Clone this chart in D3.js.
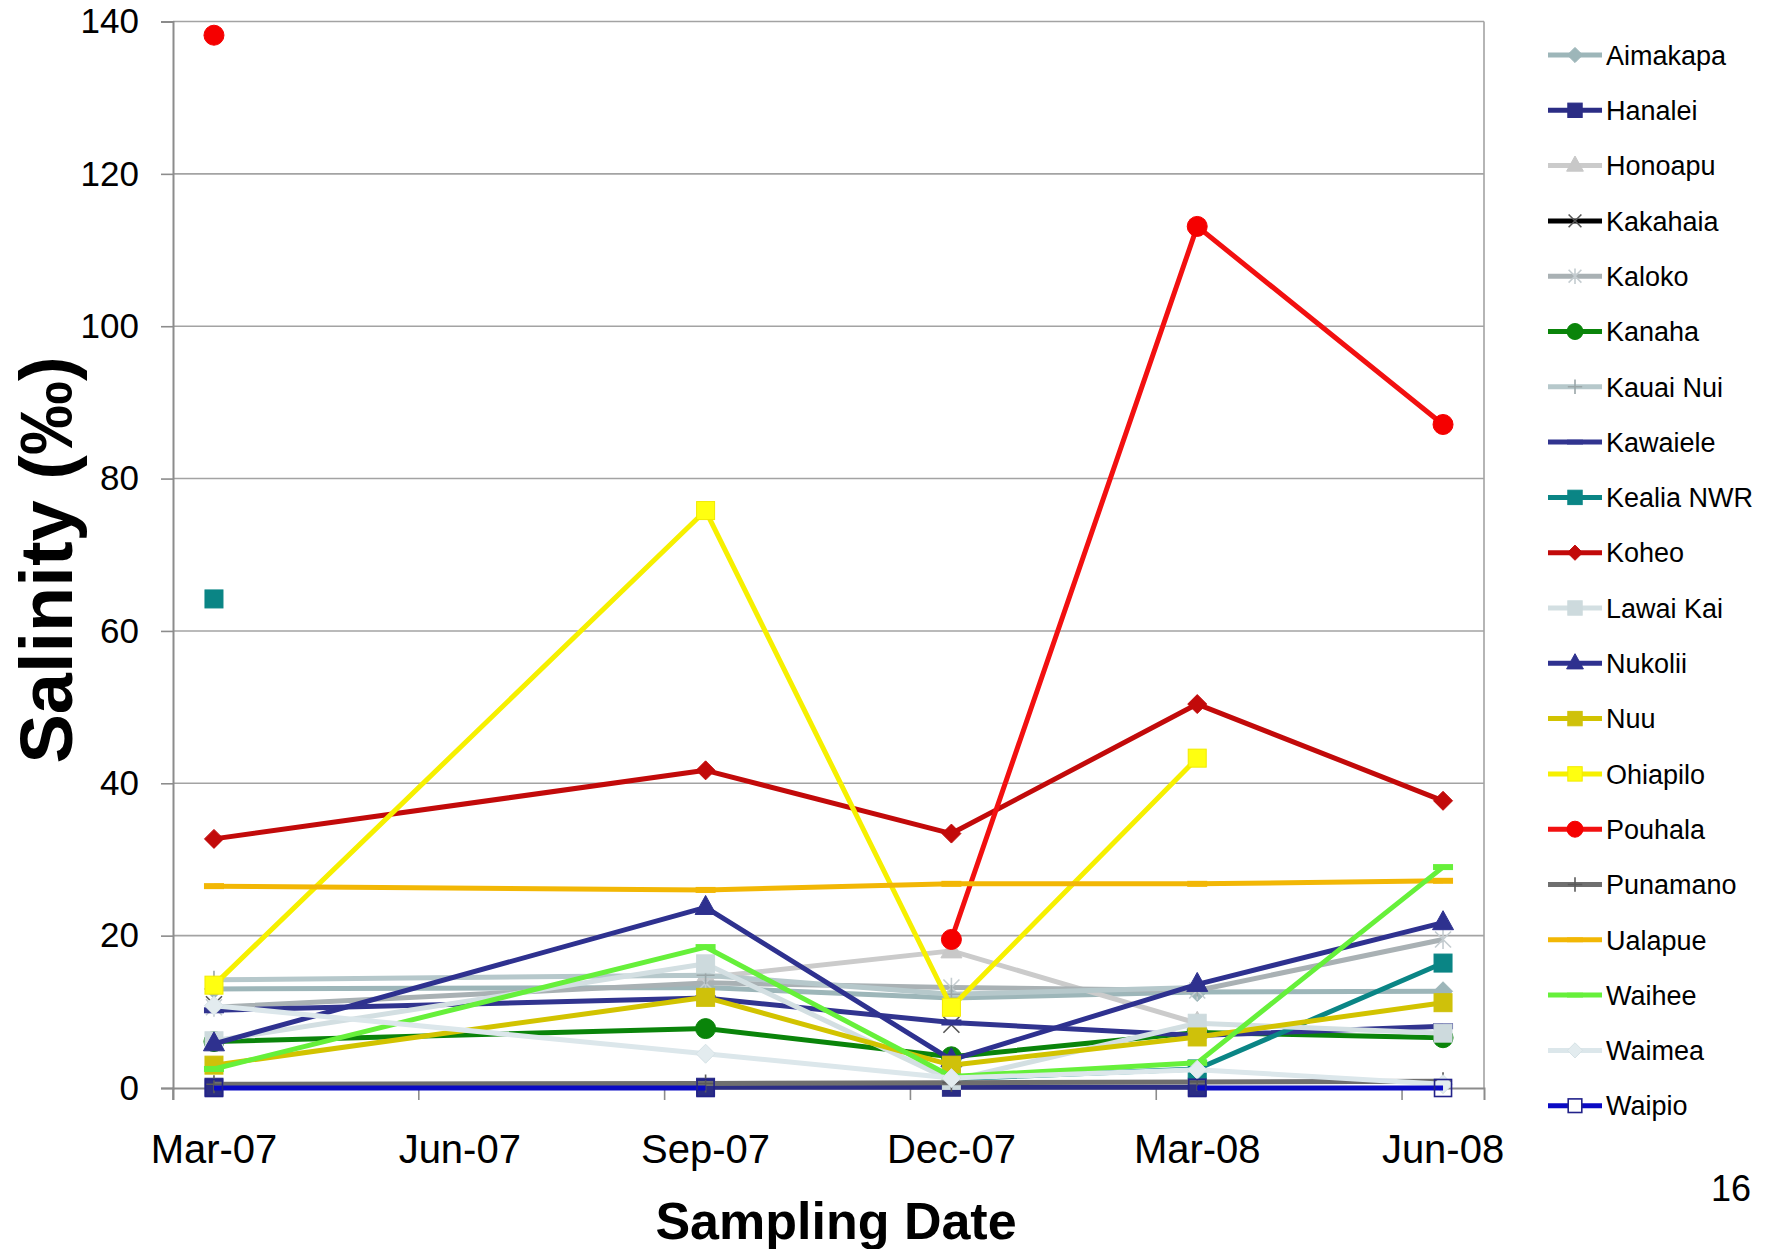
<!DOCTYPE html>
<html>
<head>
<meta charset="utf-8">
<script src="https://cdn.jsdelivr.net/npm/d3@7"></script>
<style>
  html, body { margin: 0; padding: 0; background: #fff; }
  svg { display: block; font-family: "Liberation Sans", Arial, sans-serif; }
</style>
</head>
<body>
<svg id="chart" width="1765" height="1249"></svg>
<script>
// Monthly slots of the date axis, sampling dates and labelled ticks
const months = ["Mar-07","Apr-07","May-07","Jun-07","Jul-07","Aug-07","Sep-07","Oct-07","Nov-07","Dec-07",
                "Jan-08","Feb-08","Mar-08","Apr-08","May-08","Jun-08"];
const sampleDates = ["Mar-07","Sep-07","Dec-07","Mar-08","Jun-08"];
const tickLabels = ["Mar-07","Jun-07","Sep-07","Dec-07","Mar-08","Jun-08"];
const yTicks = [0, 20, 40, 60, 80, 100, 120, 140];

// Salinity (‰) per site at each sampling date (null = not sampled)
const aimakapa = [13.0, 13.2, 11.8, 12.6, 12.7];
const hanalei  = [0.1, 0.1, 0.1, 0.1, null];
const honoapu  = [null, 14.5, 18.0, 8.5, null];
const kakahaia = [11.0, null, 8.3, null, null];
const kaloko   = [10.6, 13.8, 13.2, 12.8, 19.5];
const kanaha   = [6.1, 7.8, 4.1, 7.3, 6.6];
const kauaiNui = [14.2, 14.8, 12.3, 13.2, null];
const kawaiele = [10.2, 11.8, 8.6, 6.9, 8.1];
const kealia   = [64.2, null, 1.2, 2.5, 16.4];
const koheo    = [32.7, 41.7, 33.4, 50.4, 37.7];
const lawaiKai = [6.2, 16.3, 1.0, 8.5, 7.2];
const nukolii  = [5.8, 23.7, 3.7, 13.6, 21.7];
const nuu      = [3.0, 11.9, 3.0, 6.7, 11.2];
const ohiapilo = [13.5, 75.8, 10.6, 43.3, null];
const pouhala  = [138.2, null, 19.5, 113.1, 87.1];
const punamano = [0.5, 0.6, 0.7, 0.8, 0.9];
const ualapue  = [26.5, 26.0, 26.8, 26.8, 27.2];
const waihee   = [2.5, 18.5, 1.5, 3.3, 29.0];
const waimea   = [10.8, 4.5, 1.3, 2.4, 0.5];
const waipio   = [0, 0, null, 0, 0];

const siteNames = ["Aimakapa","Hanalei","Honoapu","Kakahaia","Kaloko","Kanaha","Kauai Nui","Kawaiele",
                   "Kealia NWR","Koheo","Lawai Kai","Nukolii","Nuu","Ohiapilo","Pouhala","Punamano",
                   "Ualapue","Waihee","Waimea","Waipio"];
const siteValues = [aimakapa, hanalei, honoapu, kakahaia, kaloko, kanaha, kauaiNui, kawaiele,
                    kealia, koheo, lawaiKai, nukolii, nuu, ohiapilo, pouhala, punamano,
                    ualapue, waihee, waimea, waipio];

// Line colour, marker shape and marker colours for each site
const siteStyle = {
  "Aimakapa":   {line: "#9db6b9", marker: "diamond",  fill: "#9db6b9", stroke: "#9db6b9", drawLine: true},
  "Hanalei":    {line: "#2b2d85", marker: "square",   fill: "#2b2d85", stroke: "#2b2d85", drawLine: true},
  "Honoapu":    {line: "#cbcbcb", marker: "triangle", fill: "#c8c8c8", stroke: "#c8c8c8", drawLine: true},
  "Kakahaia":   {line: "#000000", marker: "x",        fill: "none",    stroke: "#555555", drawLine: false},
  "Kaloko":     {line: "#a9b1b4", marker: "asterisk", fill: "none",    stroke: "#c4ccd0", drawLine: true},
  "Kanaha":     {line: "#0a840a", marker: "circle",   fill: "#0a840a", stroke: "#0a840a", drawLine: true},
  "Kauai Nui":  {line: "#b6c8cb", marker: "plus",     fill: "none",    stroke: "#9aa6a8", drawLine: true},
  "Kawaiele":   {line: "#31348f", marker: "dash",     fill: "#31348f", stroke: "#31348f", drawLine: true},
  "Kealia NWR": {line: "#0a8585", marker: "square",   fill: "#0a8585", stroke: "#0a8585", drawLine: true},
  "Koheo":      {line: "#c20a0a", marker: "diamond",  fill: "#c20a0a", stroke: "#c20a0a", drawLine: true},
  "Lawai Kai":  {line: "#d3dfe2", marker: "square",   fill: "#cddadd", stroke: "#cddadd", drawLine: true},
  "Nukolii":    {line: "#2e318f", marker: "triangle", fill: "#2e318f", stroke: "#2e318f", drawLine: true},
  "Nuu":        {line: "#d2c300", marker: "square",   fill: "#cfc10a", stroke: "#cfc10a", drawLine: true},
  "Ohiapilo":   {line: "#f6f000", marker: "square",   fill: "#ffff10", stroke: "#f2ea00", drawLine: true},
  "Pouhala":    {line: "#f21010", marker: "circle",   fill: "#f50000", stroke: "#f50000", drawLine: true},
  "Punamano":   {line: "#6f6f6f", marker: "plus",     fill: "none",    stroke: "#5a5a5a", drawLine: true},
  "Ualapue":    {line: "#f2b705", marker: "dash",     fill: "#f2b705", stroke: "#f2b705", drawLine: true},
  "Waihee":     {line: "#66f03a", marker: "dash",     fill: "#66f03a", stroke: "#66f03a", drawLine: true},
  "Waimea":     {line: "#dce7eb", marker: "diamond",  fill: "#e3ecef", stroke: "#d6e2e6", drawLine: true},
  "Waipio":     {line: "#0a0ac4", marker: "hollow",   fill: "none",    stroke: "#22228a", drawLine: true}
};

const svg = d3.select("#chart");
const plot = {left: 173, right: 1484, top: 21.5, bottom: 1088};

const x = d3.scaleBand().domain(months).range([plot.left, plot.right]).paddingInner(0).paddingOuter(0);
const bw = x.bandwidth();
const xc = m => x(m) + bw / 2;
const y = d3.scaleLinear().domain([0, 140]).range([plot.bottom, plot.top]);

// Horizontal gridlines
svg.append("g").selectAll("line")
  .data(yTicks.filter(t => t > 0))
  .join("line")
  .attr("x1", plot.left).attr("x2", plot.right)
  .attr("y1", d => y(d)).attr("y2", d => y(d))
  .attr("stroke", "#a3a3a3").attr("stroke-width", 1.6);

// Right border of the plot area
svg.append("line")
  .attr("x1", plot.right).attr("x2", plot.right)
  .attr("y1", plot.top).attr("y2", plot.bottom)
  .attr("stroke", "#a3a3a3").attr("stroke-width", 1.6);

// Y axis
const yAxis = svg.append("g")
  .attr("transform", `translate(${plot.left},0)`)
  .call(d3.axisLeft(y).tickValues(yTicks).tickSize(12).tickPadding(22));
yAxis.select(".domain").attr("stroke", "#8c8c8c").attr("stroke-width", 2);
yAxis.selectAll(".tick line").attr("stroke", "#8c8c8c").attr("stroke-width", 1.6);
yAxis.selectAll(".tick text")
  .attr("font-size", 35).attr("fill", "#000")
  .attr("font-family", "'Liberation Sans', Arial, sans-serif");

// X axis: ticks at the start of each labelled month, labels centred on the month
const xAxis = svg.append("g")
  .attr("transform", `translate(0,${plot.bottom})`)
  .call(d3.axisBottom(x).tickValues(tickLabels).tickSize(12).tickPadding(34));
xAxis.select(".domain").attr("stroke", "#8c8c8c").attr("stroke-width", 2);
xAxis.selectAll(".tick line")
  .attr("x1", -bw / 2).attr("x2", -bw / 2)
  .attr("stroke", "#8c8c8c").attr("stroke-width", 1.6);
xAxis.selectAll(".tick text")
  .attr("font-size", 40).attr("fill", "#000")
  .attr("font-family", "'Liberation Sans', Arial, sans-serif")
  .attr("dy", "0.72em");

// Marker drawing
function drawMarker(sel, type, k, st, fillOverride) {
  const fill = fillOverride || st.fill;
  if (type === "diamond") {
    sel.append("path").attr("d", `M0,${-9.5*k}L${9.5*k},0L0,${9.5*k}L${-9.5*k},0Z`)
      .attr("fill", fill).attr("stroke", st.stroke).attr("stroke-width", 1);
  } else if (type === "square") {
    sel.append("rect").attr("x", -9*k).attr("y", -9*k).attr("width", 18*k).attr("height", 18*k)
      .attr("fill", fill).attr("stroke", st.stroke).attr("stroke-width", 1);
  } else if (type === "hollow") {
    sel.append("rect").attr("x", -8.5*k).attr("y", -8.5*k).attr("width", 17*k).attr("height", 17*k)
      .attr("fill", fill).attr("stroke", st.stroke).attr("stroke-width", 1.6);
  } else if (type === "triangle") {
    sel.append("path").attr("d", `M0,${-12*k}L${10.5*k},${7*k}L${-10.5*k},${7*k}Z`)
      .attr("fill", fill).attr("stroke", st.stroke).attr("stroke-width", 1);
  } else if (type === "circle") {
    sel.append("circle").attr("r", 10*k)
      .attr("fill", fill).attr("stroke", st.stroke).attr("stroke-width", 1);
  } else if (type === "x" || type === "asterisk") {
    const a = 8*k;
    let d = `M${-a},${-a}L${a},${a}M${-a},${a}L${a},${-a}`;
    if (type === "asterisk") d += `M0,${-a*1.2}L0,${a*1.2}`;
    sel.append("path").attr("d", d).attr("fill", "none")
      .attr("stroke", st.stroke).attr("stroke-width", 1.6);
  } else if (type === "plus") {
    const a = 9*k;
    sel.append("path").attr("d", `M${-a},0L${a},0M0,${-a}L0,${a}`).attr("fill", "none")
      .attr("stroke", st.stroke).attr("stroke-width", 1.6);
  } else if (type === "dash") {
    sel.append("rect").attr("x", -10*k).attr("y", -3*k).attr("width", 20*k).attr("height", 6*k)
      .attr("fill", fill).attr("stroke", "none");
  }
}

const series = siteNames.map((name, i) => ({
  name,
  style: siteStyle[name],
  points: sampleDates.map((d, j) => ({date: d, v: siteValues[i][j]}))
}));

const line = d3.line()
  .defined(p => p.v != null)
  .x(p => xc(p.date))
  .y(p => y(p.v));

const seriesG = svg.append("g");
series.forEach(s => {
  const g = seriesG.append("g");
  if (s.style.drawLine) {
    g.append("path")
      .datum(s.points)
      .attr("d", line)
      .attr("fill", "none")
      .attr("stroke", s.style.line)
      .attr("stroke-width", 5)
      .attr("stroke-linejoin", "round");
  }
  s.points.filter(p => p.v != null).forEach(p => {
    const mg = g.append("g").attr("transform", `translate(${xc(p.date)},${y(p.v)})`);
    drawMarker(mg, s.style.marker, 1, s.style);
  });
});

// Legend
const legend = svg.append("g");
const legendTop = 55, legendStep = 55.3;
series.forEach((s, i) => {
  const ly = legendTop + i * legendStep;
  const g = legend.append("g").attr("transform", `translate(0,${ly})`);
  g.append("line").attr("x1", 1548).attr("x2", 1602).attr("y1", 0).attr("y2", 0)
    .attr("stroke", s.style.line).attr("stroke-width", 5);
  const mg = g.append("g").attr("transform", "translate(1575,0)");
  drawMarker(mg, s.style.marker, 0.8, s.style, s.style.marker === "hollow" ? "#ffffff" : null);
  g.append("text").attr("x", 1606).attr("y", 0).attr("dy", "0.36em")
    .attr("font-size", 27).attr("fill", "#000").text(s.name);
});

// Axis titles
svg.append("text")
  .attr("transform", "translate(72,560) rotate(-90)")
  .attr("text-anchor", "middle")
  .attr("font-size", 74).attr("font-weight", "bold").attr("fill", "#000")
  .text("Salinity (‰)");

svg.append("text")
  .attr("x", 836).attr("y", 1239)
  .attr("text-anchor", "middle")
  .attr("font-size", 52).attr("font-weight", "bold").attr("fill", "#000")
  .text("Sampling Date");

// Slide number
svg.append("text")
  .attr("x", 1751).attr("y", 1201)
  .attr("text-anchor", "end")
  .attr("font-size", 36).attr("fill", "#000")
  .text("16");
</script>
</body>
</html>
